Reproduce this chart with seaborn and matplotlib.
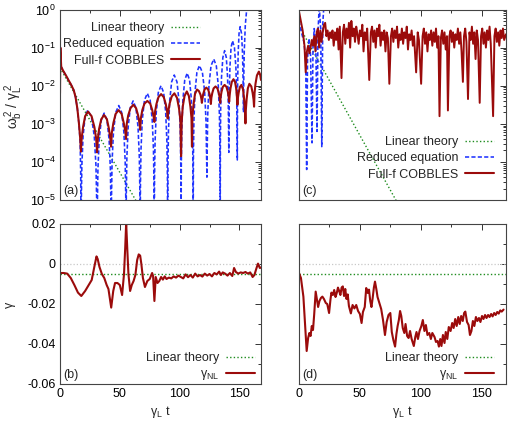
import numpy as np
import matplotlib
matplotlib.use('Agg')
import matplotlib.pyplot as plt
import seaborn as sns
from matplotlib.ticker import MultipleLocator, LogLocator, FuncFormatter, NullFormatter
from matplotlib.lines import Line2D

# ---------------- data ----------------
# panel (a): log10 of omega_b^2/gamma_L^2
a_lin_t = [0, 75]
a_lin_e = [-1.53, -5.65]

a_red_t = [0, 0.3, 1.0, 2.5, 4.0, 5.5, 7.0, 8.5, 10.0, 11.5, 13.0, 14.5, 15.8, 16.8, 17.5,
           18.1, 19.3, 21.0, 23.4, 26.4, 28.7, 30.2, 31.0,
           31.6, 32.7, 34.5, 36.8, 39.2, 40.9, 42.1, 42.7,
           43.3, 44.6, 46.5, 49.0, 51.5, 53.3, 54.6, 55.2,
           55.8, 57.0, 58.9, 61.3, 63.6, 65.3, 66.4, 67.0,
           67.6, 68.8, 70.6, 73.0, 75.4, 77.1, 78.3, 78.9,
           79.5, 80.6, 82.3, 84.5, 86.7, 88.4, 89.5, 90.0,
           90.6, 91.7, 93.4, 95.6, 97.8, 99.5, 100.6, 101.2,
           101.7, 102.6, 104.1, 106.0, 107.7, 109.0, 109.9, 110.3,
           110.7, 111.6, 112.8, 114.5, 116.1, 117.5, 118.2, 118.6,
           119.0, 119.7, 120.8, 122.3, 123.8, 125.0, 125.7, 126.1,
           126.5, 127.3, 128.4, 130.0, 131.6, 132.7, 133.5, 133.9,
           134.3, 135.0, 136.1, 137.6, 139.1, 140.3, 141.0, 141.4,
           141.8, 142.5, 143.6, 145.0, 146.3, 147.3, 147.9, 148.3,
           148.6, 149.3, 150.3, 151.6, 153.0, 154.0, 154.6, 155.0,
           155.3, 156.0, 157.0, 158.3, 159.9, 161.0, 161.8, 162.2,
           162.6, 163.4, 164.6, 166.2, 167.2, 168.0]
a_red_e = [-2.2, -1.0, -1.5, -1.6, -1.68, -1.76, -1.85, -1.93, -2.02, -2.12, -2.3, -2.6, -2.98, -3.35, -3.73,
           -3.38, -3.08, -2.80, -2.68, -2.80, -3.08, -3.38, -3.75,
           -3.40, -3.13, -2.88, -2.77, -2.88, -3.13, -3.40, -3.60,
           -3.24, -2.98, -2.74, -2.64, -2.74, -2.98, -3.20, -3.40,
           -3.00, -2.78, -2.59, -2.50, -2.59, -2.78, -2.98, -3.16,
           -2.85, -2.64, -2.47, -2.40, -2.47, -2.64, -2.82, -2.95,
           -2.67, -2.48, -2.30, -2.22, -2.30, -2.48, -2.67, -2.86,
           -2.66, -2.46, -2.28, -2.20, -2.32, -2.60, -2.90, -3.85,
           -2.95, -2.55, -2.27, -2.15, -2.27, -2.55, -2.85, -3.60,
           -2.80, -2.50, -2.22, -2.10, -2.14, -2.24, -2.35, -2.45,
           -2.35, -2.22, -2.10, -2.05, -2.10, -2.22, -2.35, -2.48,
           -2.32, -2.19, -2.07, -2.02, -2.07, -2.19, -2.32, -2.45,
           -2.29, -2.16, -2.03, -1.98, -2.03, -2.16, -2.29, -2.42,
           -2.25, -2.07, -1.90, -1.83, -1.90, -2.08, -2.30, -2.50,
           -2.34, -2.19, -2.04, -1.98, -2.10, -2.38, -2.68, -2.99,
           -2.65, -2.35, -2.07, -1.95, -2.02, -2.19, -2.37, -2.55,
           -2.20, -1.95, -1.73, -1.63, -1.70, -1.85]

a_blue_t = [0, 0.3, 1.0, 2.5, 4.0, 5.5, 7.0, 8.5, 10.0, 11.5, 13.0, 14.5, 15.8, 16.8, 17.3, 17.6,
            17.82, 18.27, 19.28, 20.96, 23.2, 26.32, 28.66, 30.06, 30.69, 31.0,
            31.24, 31.71, 32.77, 34.54, 36.9, 39.26, 41.03, 42.09, 42.56, 42.8,
            43.05, 43.56, 44.69, 46.58, 49.1, 51.54, 53.37, 54.47, 54.96, 55.2,
            55.44, 55.91, 56.97, 58.74, 61.1, 63.46, 65.23, 66.29, 66.76, 67.0,
            67.24, 67.72, 68.8, 70.6, 73.0, 75.32, 77.06, 78.1, 78.57, 78.8,
            79.02, 79.47, 80.48, 82.16, 84.4, 86.64, 88.32, 89.33, 89.78, 90.0,
            90.22, 90.66, 91.65, 93.3, 95.5, 97.78, 99.49, 100.52, 100.97, 101.2,
            101.4, 101.81, 102.73, 104.26, 106.3, 108.3, 109.8, 110.7, 111.1, 111.3,
            111.51, 111.92, 112.86, 114.42, 116.5, 119.02, 120.91, 122.04, 122.55, 122.8,
            123.03, 123.48, 124.51, 126.22, 128.5, 130.66, 132.28, 133.25, 133.68, 133.9,
            134.05, 134.34, 135.01, 136.12, 137.6, 139.0, 140.05, 140.68, 140.96, 141.1,
            141.22, 141.47, 142.03, 142.96, 144.2, 145.8, 147.0, 147.72, 148.04, 148.2,
            148.3, 148.49, 148.92, 149.64, 150.6, 151.72, 152.56, 153.06, 153.4,
            153.6, 154.0, 154.9, 156.0, 157.5]
a_blue_e = [-2.2, -1.0, -1.5, -1.6, -1.68, -1.76, -1.85, -1.93, -2.02, -2.12, -2.3, -2.6, -3.0, -3.45, -4.3, -6.0,
            -5.04, -4.10, -3.33, -2.82, -2.64, -2.82, -3.33, -4.10, -5.04, -6.0,
            -5.12, -4.18, -3.41, -2.90, -2.72, -2.90, -3.41, -4.18, -5.12, -6.0,
            -4.92, -3.98, -3.21, -2.70, -2.52, -2.70, -3.21, -3.98, -4.92, -6.0,
            -4.80, -3.86, -3.09, -2.58, -2.40, -2.58, -3.09, -3.86, -4.80, -6.0,
            -4.60, -3.66, -2.89, -2.38, -2.20, -2.38, -2.89, -3.66, -4.60, -6.0,
            -4.40, -3.46, -2.69, -2.18, -2.00, -2.18, -2.69, -3.46, -4.40, -6.0,
            -4.12, -3.18, -2.41, -1.90, -1.72, -1.90, -2.41, -3.18, -4.12, -6.0,
            -4.07, -3.13, -2.36, -1.85, -1.67, -1.85, -2.36, -3.13, -4.07, -6.0,
            -3.87, -2.93, -2.16, -1.65, -1.47, -1.65, -2.16, -2.93, -3.87, -4.4,
            -3.70, -2.76, -1.99, -1.48, -1.30, -1.48, -1.99, -2.76, -3.70, -6.0,
            -3.48, -2.54, -1.77, -1.26, -1.08, -1.26, -1.77, -2.54, -3.48, -3.75,
            -3.22, -2.28, -1.51, -1.00, -0.82, -1.00, -1.51, -2.28, -3.22, -3.95,
            -2.85, -1.91, -1.14, -0.63, -0.45, -0.63, -1.14, -1.91, -2.70,
            -1.80, -1.10, -0.40, 0.0, 0.5]

# panel (c)
c_lin_t = [0, 87]
c_lin_e = [-0.43, -5.43]

c_blue_t = [0, 2, 4, 5.5, 6.3, 7.0, 8.2, 9.5, 10.7, 11.5, 12.5, 13.8, 14.8, 15.6, 16.6, 17.8, 18.7, 19.5, 20.6]
c_blue_e = [-0.3, -0.6, -0.85, -1.3, -4.2, -1.3, -0.76, -1.2, -3.5, -1.0, -0.5, -0.9, -3.2, -0.6, 0.1, -0.5, -3.6, -0.4, 0.2]

c_red_t = [0, 1.5, 3, 4.5, 5.5, 6.5, 7.5, 8.5, 9.5, 10.5, 11.5, 12.5, 13.5, 14.5, 15.5, 16.5, 17.5, 18.5,
           19.5, 20.5, 21.5, 22.5, 23.5, 24.5, 25.5, 26.5, 27.5, 28.5, 29.5, 30.5, 31.5, 32.5, 33.5, 34.9,
           36, 37, 38, 39, 40, 41, 42, 43, 44, 45, 46, 47, 48, 49, 50, 51, 52, 53, 54, 55, 56, 57.7,
           59, 60, 61, 62, 63, 64, 65, 66, 67, 68, 69, 70, 71, 72, 73, 74.2, 75.5, 76.5, 77.5, 78.5,
           79.5, 80.5, 81.5, 82.5, 83.5, 84.5, 85.5, 86.5, 87.5, 88.5, 89.5, 90.5, 91.5, 92.5, 93.5,
           94.5, 96.2, 97.5, 98.5, 100.3, 101.5, 102.5, 103.5, 104.5, 105.5, 106.5, 107.5, 108.5,
           109.5, 110.5, 111.5, 112.5, 113.5, 114.5, 115.4, 116.5, 117.5, 118.5, 119.5, 120.5, 121.5,
           122.3, 123.5, 124.5, 125.5, 126.5, 127.5, 128.5, 129.5, 130.5, 131.5, 132.5, 133.5, 134.6,
           135.5, 136.5, 137.5, 138.8, 140, 141, 142, 143, 144, 145, 146, 147, 148.4, 149.5, 150.5,
           151.5, 152.5, 153.5, 154.5, 155.5, 156.5, 157.5, 159.4, 160.5, 161.5, 162.5, 163.5, 164.5,
           165.5, 166.5, 167.5, 168.5, 170]
c_red_e = [-0.05, -0.3, -0.55, -0.95, -1.65, -1.1, -0.95, -1.15, -1.0, -0.8, -0.95, -0.7, -1.1, -0.6, -0.5, -1.0, -0.55, -0.85,
           -0.6, -0.4, -0.35, -0.7, -0.55, -0.8, -0.6, -0.75, -0.55, -0.95, -0.6, -0.8, -0.5, -1.05, -0.45, -1.8,
           -0.6, -0.4, -0.9, -0.5, -0.75, -0.35, -1.0, -0.3, -0.7, -0.5, -0.85, -0.45, -0.65, -0.9, -0.55, -0.7, -0.4, -1.1, -0.6, -0.8, -0.5, -1.85,
           -0.6, -0.45, -0.85, -0.55, -1.0, -0.5, -0.7, -0.4, -0.95, -0.6, -0.8, -0.55, -1.1, -0.6, -0.75, -1.95, -0.7, -0.5, -0.85, -0.55,
           -0.75, -0.45, -1.0, -0.65, -0.8, -0.5, -0.9, -0.6, -0.75, -0.45, -1.05, -0.65, -0.8, -0.55, -0.95,
           -0.7, -1.65, -0.6, -0.8, -1.95, -0.7, -0.5, -0.9, -0.6, -1.1, -0.65, -0.8, -0.55,
           -0.95, -0.6, -0.85, -0.5, -1.0, -0.7, -2.8, -0.75, -0.55, -0.9, -0.6, -1.05, -0.7,
           -2.65, -0.7, -0.55, -0.85, -0.6, -1.0, -0.65, -0.8, -0.5, -0.9, -0.6, -1.1, -1.9,
           -0.7, -0.5, -0.85, -2.35, -0.6, -0.8, -0.45, -0.9, -0.6, -1.3, -0.55, -0.8, -2.45, -0.7, -0.5,
           -0.9, -0.6, -1.0, -0.55, -0.8, -0.45, -0.9, -2.8, -0.7, -0.5, -0.85, -0.6, -0.95,
           -0.55, -0.75, -0.5, -0.8, -0.65]

# panels (b) and (d): growth rate gamma
lin_gamma_t = [0, 170]
lin_gamma_v = [-0.005, -0.005]

b_red_t = [0, 3, 6, 9, 12, 15, 17.8, 21, 24, 26.5, 28.5, 30.5, 31.5, 33, 35, 37, 39, 40.5, 42.8, 44.5,
           46, 48, 50, 51.9, 53.5, 54.5, 55.3, 56.2, 57.2, 58.6, 60, 61.5, 63, 64.5, 65.8, 67, 68, 69.3,
           71, 73, 75, 77, 77.8, 78.9, 80, 81.5, 83, 84.5, 86, 87.5, 89, 91, 93, 95, 97, 99, 101, 103,
           105, 107, 109, 111, 113, 115, 117, 119, 121, 123, 125, 127, 129, 131, 133, 134.5, 136, 138,
           140, 142, 144, 145.5, 147, 149, 151, 153, 155, 157, 159, 161, 162.5, 164, 165.5, 167, 168]
b_red_v = [-0.0045, -0.0045, -0.0048, -0.007, -0.0105, -0.0143, -0.016, -0.0135, -0.0105, -0.008, -0.002,
           0.0038, 0.0025, -0.0015, -0.005, -0.007, -0.0105, -0.0125, -0.0218, -0.0135,
           -0.0095, -0.0095, -0.0105, -0.0155, -0.005, 0.008, 0.0205, 0.008, -0.005, -0.0135, -0.0105,
           -0.0085, -0.0055, 0.002, 0.0048, 0.0042, 0.0, -0.007,
           -0.0115, -0.0085, -0.0075, -0.0045, -0.006, -0.0185, -0.0065, -0.0095, -0.0085, -0.0065,
           -0.0078, -0.0062, -0.0075, -0.0068, -0.0072, -0.0062, -0.0068, -0.0058, -0.0065, -0.0072,
           -0.0052, -0.0066, -0.0055, -0.0068, -0.0048, -0.0062, -0.0055, -0.0063, -0.0048, -0.0058,
           -0.005, -0.0062, -0.0045, -0.0052, -0.0038, -0.0055, -0.0042, -0.0048,
           -0.0058, -0.0045, -0.006, -0.002, -0.004, -0.0048, -0.0042, -0.0045, -0.004, -0.0048,
           -0.0042, -0.0065, -0.0055, -0.0025, 0.0002, -0.002, -0.0018]

d_red_t = [0, 1.6, 3.6, 5.0, 6.3, 7.5, 8.5, 9.5, 10.5, 11.5, 12.5, 13.7, 14.8, 15.7, 16.8, 18, 19.2, 20.5,
           22, 23.2, 24.7, 25.8, 26.6, 27.8, 28.9, 30, 31, 32, 33, 34, 35, 36, 37, 38, 39, 40, 41, 42.6,
           44, 45.5, 47, 48.5, 50, 51.4, 52.5, 54, 55.2, 56.5, 57.5, 58.5, 59.5, 60.5, 61.5, 62.4, 63.5,
           64.5, 66, 67.5, 69, 70.6, 72, 73.5, 75, 76.2, 77.5, 78.9, 80, 81, 82, 83, 84, 85.2, 86.5, 87.5,
           88.8, 90, 91.2, 92.5, 94.3, 95.5, 96.5, 97.7, 99, 100.5, 101.7, 103, 104.2, 105.5, 107, 108.3,
           109.5, 111.3, 112.5, 113.8, 114.9, 116, 117, 118.2, 119.5, 120.5, 121.8, 123, 124.5, 125.8,
           127, 128.3, 129.5, 130.8, 132, 133.2, 134.5, 135.6, 136.6, 138, 139.3, 140.4, 141.6, 142.8,
           144, 145.3, 146.5, 147.8, 149, 150.3, 151.5, 152.8, 154, 155.3, 156.5, 157.8, 159, 160.3,
           161.5, 162.8, 164, 165.3, 166.5, 168]
d_red_v = [-0.0045, -0.007, -0.0163, -0.03, -0.0435, -0.037, -0.0345, -0.036, -0.031, -0.033, -0.025,
           -0.0138, -0.018, -0.0215, -0.0185, -0.017, -0.0163, -0.0175,
           -0.0195, -0.02, -0.0245, -0.018, -0.0143, -0.0155, -0.013, -0.0165, -0.0145, -0.0118, -0.0135,
           -0.0155, -0.0118, -0.0112, -0.016, -0.0125, -0.0175, -0.0152, -0.021, -0.0247,
           -0.0205, -0.0222, -0.0205, -0.0235, -0.025, -0.0295, -0.024, -0.0215, -0.012, -0.0145, -0.0128,
           -0.0185, -0.0215, -0.017, -0.0118, -0.0088, -0.0125,
           -0.0165, -0.0195, -0.0225, -0.028, -0.0355, -0.029, -0.0255, -0.0245, -0.034, -0.038, -0.0413,
           -0.035, -0.031, -0.028, -0.0235, -0.026, -0.032, -0.0345, -0.03,
           -0.036, -0.037, -0.0335, -0.0375, -0.041, -0.0365, -0.034, -0.0375, -0.0335, -0.031, -0.028,
           -0.0335, -0.0305, -0.0355, -0.0345, -0.0375,
           -0.0345, -0.0365, -0.039, -0.0385, -0.0413, -0.0375, -0.041, -0.0355, -0.0395, -0.034, -0.0375,
           -0.0315, -0.0335, -0.0295,
           -0.032, -0.0275, -0.031, -0.0265, -0.03, -0.026, -0.0285, -0.0245, -0.0238, -0.029, -0.0305,
           -0.0355, -0.0335, -0.0285,
           -0.031, -0.0265, -0.0285, -0.027, -0.029, -0.026, -0.0275, -0.0255, -0.027, -0.0255, -0.0265,
           -0.025, -0.0262, -0.0245,
           -0.0255, -0.024, -0.0248, -0.0232, -0.0238, -0.0228]

x_ticks = [0, 50, 100, 150]

# ---------------- style ----------------
sns.set_theme(style='white')
plt.rcParams['font.family'] = ['Liberation Sans', 'DejaVu Sans']
plt.rcParams['mathtext.fontset'] = 'custom'
plt.rcParams['mathtext.rm'] = 'Liberation Sans'
plt.rcParams['mathtext.it'] = 'Liberation Sans:italic'
plt.rcParams['mathtext.bf'] = 'Liberation Sans:bold'
plt.rcParams['axes.unicode_minus'] = False

FS = 9
RED = '#9b0b0b'
BLUE = '#1f33ff'
GREEN = '#1e8c1e'
DOT = (0, (1, 1.6))
DASH = (0, (2.6, 1.4))

fig = plt.figure(figsize=(5.1, 4.28), dpi=100)
W, H = 510.0, 428.0

def box(l, t, r, b):
    return [l / W, 1 - b / H, (r - l) / W, (b - t) / H]

ax_a = fig.add_axes(box(60, 9.5, 261, 200))
ax_c = fig.add_axes(box(299, 9.5, 506, 200))
ax_b = fig.add_axes(box(60, 224, 261, 384))
ax_d = fig.add_axes(box(299, 224, 506, 384))

def line(ax, x, y, color, lw, ls='-', label=None):
    sns.lineplot(x=np.asarray(x, float), y=np.asarray(y, float), ax=ax, color=color,
                 linewidth=lw, linestyle=ls, label=label, estimator=None, sort=False,
                 errorbar=None, legend=False)

# panel a
line(ax_a, a_lin_t, 10 ** np.array(a_lin_e), GREEN, 1.0, DOT)
line(ax_a, a_blue_t, 10 ** np.array(a_blue_e), BLUE, 1.15, DASH)
line(ax_a, a_red_t, 10 ** np.array(a_red_e), RED, 1.5)
# panel c
line(ax_c, c_lin_t, 10 ** np.array(c_lin_e), GREEN, 1.0, DOT)
line(ax_c, c_blue_t, 10 ** np.array(c_blue_e), BLUE, 1.15, DASH)
line(ax_c, c_red_t, 10 ** np.array(c_red_e), RED, 1.4)
# panels b, d
for ax, rt, rv in ((ax_b, b_red_t, b_red_v), (ax_d, d_red_t, d_red_v)):
    ax.axhline(0, color='#c8c8c8', lw=0.9, ls=DOT, zorder=1)
    line(ax, lin_gamma_t, lin_gamma_v, GREEN, 1.0, DOT)
    line(ax, rt, rv, RED, 1.5)

for ax in (ax_a, ax_c):
    ax.set_yscale('log')
    ax.set_ylim(1e-5, 1)
    ax.yaxis.set_major_locator(LogLocator(base=10, numticks=10))
    ax.yaxis.set_minor_locator(LogLocator(base=10, subs=np.arange(2, 10), numticks=10))
for ax in (ax_b, ax_d):
    ax.set_ylim(-0.06, 0.02)
    ax.yaxis.set_major_locator(MultipleLocator(0.02))
    ax.yaxis.set_minor_locator(MultipleLocator(0.01))
    ax.yaxis.set_major_formatter(FuncFormatter(lambda v, p: '0' if abs(v) < 1e-9 else f'{v:.2f}'))
ax_a.set_xlim(0, 168)
ax_b.set_xlim(0, 168)
ax_c.set_xlim(0, 170)
ax_d.set_xlim(0, 170)

for ax in (ax_a, ax_b, ax_c, ax_d):
    ax.set_xticks(x_ticks)
    ax.xaxis.set_minor_locator(MultipleLocator(25))
    ax.tick_params(which='both', direction='in', top=True, right=True, colors='#333333',
                   labelcolor='black', labelsize=FS, width=0.7, pad=3)
    ax.tick_params(which='major', length=4.5)
    ax.tick_params(which='minor', length=2.5)
    for s in ax.spines.values():
        s.set_color('#444444')
        s.set_linewidth(0.8)
    ax.set_xlabel('')
    ax.set_ylabel('')

ax_a.tick_params(labelbottom=False)
ax_c.tick_params(labelbottom=False, labelleft=False)
ax_d.tick_params(labelleft=False)
ax_c.yaxis.set_major_formatter(NullFormatter())

for ax in (ax_b, ax_d):
    ax.set_xlabel(r'$\mathrm{\gamma_L}$ t', fontsize=FS, labelpad=3)

fig.text(14 / W, 1 - 107 / H, r'$\mathrm{\omega_b^{\,2}\ /\ \gamma_L^{\,2}}$', rotation=90,
         ha='center', va='center', fontsize=10)
fig.text(11 / W, 1 - 305 / H, r'$\mathrm{\gamma}$', rotation=90, ha='center', va='center', fontsize=FS)

for ax, lab in ((ax_a, '(a)'), (ax_b, '(b)'), (ax_c, '(c)'), (ax_d, '(d)')):
    ax.text(0.018, 0.018, lab, transform=ax.transAxes, ha='left', va='bottom', fontsize=FS)

h_lin = Line2D([], [], color=GREEN, lw=1.0, ls=DOT)
h_blue = Line2D([], [], color=BLUE, lw=1.15, ls=DASH)
h_red = Line2D([], [], color=RED, lw=1.5)
leg_kw = dict(frameon=False, markerfirst=False, handlelength=2.3, handletextpad=0.55,
              labelspacing=0.34, borderpad=0, borderaxespad=0, fontsize=FS,
              bbox_transform=fig.transFigure, loc='upper right')
ax_a.legend([h_lin, h_blue, h_red], ['Linear theory', 'Reduced equation', 'Full-f COBBLES'],
            bbox_to_anchor=(200 / W, 1 - 22 / H), **leg_kw)
ax_c.legend([h_lin, h_blue, h_red], ['Linear theory', 'Reduced equation', 'Full-f COBBLES'],
            bbox_to_anchor=(494 / W, 1 - 136 / H), **leg_kw)
ax_b.legend([h_lin, h_red], ['Linear theory', r'$\mathrm{\gamma_{NL}}$'],
            bbox_to_anchor=(255 / W, 1 - 352 / H), **leg_kw)
ax_d.legend([h_lin, h_red], ['Linear theory', r'$\mathrm{\gamma_{NL}}$'],
            bbox_to_anchor=(494 / W, 1 - 352 / H), **leg_kw)

fig.savefig('out.png', dpi=100)
